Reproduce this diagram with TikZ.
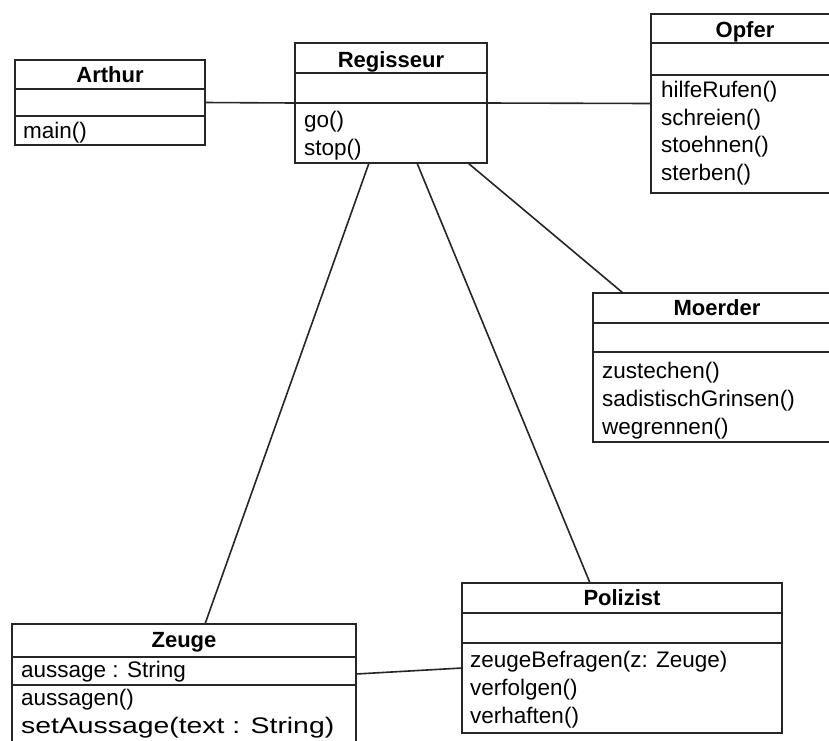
\documentclass[tikz,border=0pt]{standalone}
\usepackage{graphicx}
\usepackage{fontspec}
\setmainfont{Liberation Sans}
\begin{document}
\begin{tikzpicture}[x=1pt,y=-1pt,
  classbox/.style={draw=black!85, line width=1.6pt, rectangle, inner sep=0pt, outer sep=0pt, anchor=north west},
  divider/.style={draw=black!85, line width=1.5pt},
  assoc/.style={draw=black!85, line width=1.6pt},
  classname/.style={anchor=base, inner sep=0pt, font=\fontsize{22}{26}\selectfont\bfseries},
  member/.style={anchor=base west, inner sep=0pt, font=\fontsize{22.5}{27}\selectfont}]
\clip (0,0) rectangle (829,740);
\fill[white] (0,0) rectangle (829,740);

% Arthur
\node[classbox, minimum width=190pt, minimum height=85pt] (arthur) at (15,60) {};
\draw[divider] (15,89) -- (205,89);
\draw[divider] (15,116) -- (205,116);
\node[classname] (arthur-t) at (110,82) {Arthur};
\node[member] (arthur-m1) at (23,138) {main()};

% Regisseur
\node[classbox, minimum width=192pt, minimum height=120pt] (regisseur) at (295,43) {};
\draw[divider] (295,73) -- (487,73);
\draw[divider] (295,103) -- (487,103);
\node[classname] (regisseur-t) at (391,67) {Regisseur};
\node[member] (regisseur-m1) at (304,127) {go()};
\node[member] (regisseur-m2) at (304,155) {stop()};

% Opfer
\node[classbox, minimum width=189pt, minimum height=179pt] (opfer) at (651,14) {};
\draw[divider] (651,43) -- (840,43);
\draw[divider] (651,75) -- (840,75);
\node[classname] (opfer-t) at (745,37) {Opfer};
\node[member] (opfer-m1) at (661,97) {hilfeRufen()};
\node[member] (opfer-m2) at (661,125) {schreien()};
\node[member] (opfer-m3) at (661,152) {stoehnen()};
\node[member] (opfer-m4) at (661,180) {sterben()};

% Moerder
\node[classbox, minimum width=249pt, minimum height=149pt] (moerder) at (593,293) {};
\draw[divider] (593,323) -- (842,323);
\draw[divider] (593,352) -- (842,352);
\node[classname] (moerder-t) at (717,315) {Moerder};
\node[member] (moerder-m1) at (602,378) {zustechen()};
\node[member] (moerder-m2) at (602,406) {sadistischGrinsen()};
\node[member] (moerder-m3) at (602,434) {wegrennen()};

% Zeuge
\node[classbox, minimum width=344pt, minimum height=146pt] (zeuge) at (12,624) {};
\draw[divider] (12,657) -- (356,657);
\draw[divider] (12,685) -- (356,685);
\node[classname] (zeuge-t) at (184,647) {Zeuge};
\node[member] (zeuge-a1) at (21,677) {aussage : String};
\node[member] (zeuge-m1) at (21,705) {aussagen()};
\node[member] (zeuge-m2) at (21,733) {\scalebox{1.26}[1]{setAussage(text : String)}};

% Polizist
\node[classbox, minimum width=320pt, minimum height=150pt] (polizist) at (462,583) {};
\draw[divider] (462,613) -- (782,613);
\draw[divider] (462,643) -- (782,643);
\node[classname] (polizist-t) at (622,605) {Polizist};
\node[member] (polizist-m1) at (470,667) {zeugeBefragen(z: Zeuge)};
\node[member] (polizist-m2) at (470,695) {verfolgen()};
\node[member] (polizist-m3) at (470,723) {verhaften()};

% associations
\draw[assoc] (arthur.east) -- (regisseur.west);
\draw[assoc] (regisseur.east) -- (opfer.west);
\draw[assoc] ([xshift=-22pt]regisseur.south) -- ([xshift=21pt]zeuge.north);
\draw[assoc] ([xshift=26pt]regisseur.south) -- ([xshift=-32pt]polizist.north);
\draw[assoc] ([xshift=77pt]regisseur.south) -- ([xshift=30pt]moerder.north west);
\draw[assoc] ([yshift=-50pt]zeuge.north east) -- ([yshift=-85pt]polizist.north west);
\end{tikzpicture}
\end{document}
